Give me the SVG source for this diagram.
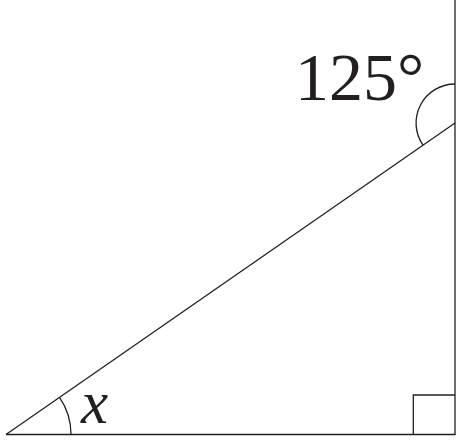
<svg xmlns="http://www.w3.org/2000/svg" width="464" height="441" viewBox="0 0 464 441">
<style>
.ln{stroke:#231f20;stroke-width:1.3;fill:none}
.t{fill:#231f20;font-family:Liberation Serif,serif}
</style>
<rect width="464" height="441" fill="#fff"/>
<g id="connectors">
<line class="ln" x1="455" y1="0" x2="455" y2="434.5"/>
<line class="ln" x1="6" y1="434.5" x2="455.6" y2="434.5" style="stroke-width:1.6"/>
<line class="ln" x1="6" y1="434.5" x2="455" y2="123"/>
</g>
<g id="angle-125">
<path class="ln" d="M455,84 A39,39 0 0 0 423,145.2"/>
<text class="t" x="295" y="100" font-size="68">125°</text>
</g>
<g id="angle-x">
<path class="ln" d="M59.5,397.4 A65,65 0 0 1 71,434.5"/>
<text class="t" x="81" y="423.3" font-size="61" font-style="italic">x</text>
</g>
<g id="right-angle">
<polyline class="ln" points="413.3,434.5 413.3,395 455,395"/>
</g>
</svg>
